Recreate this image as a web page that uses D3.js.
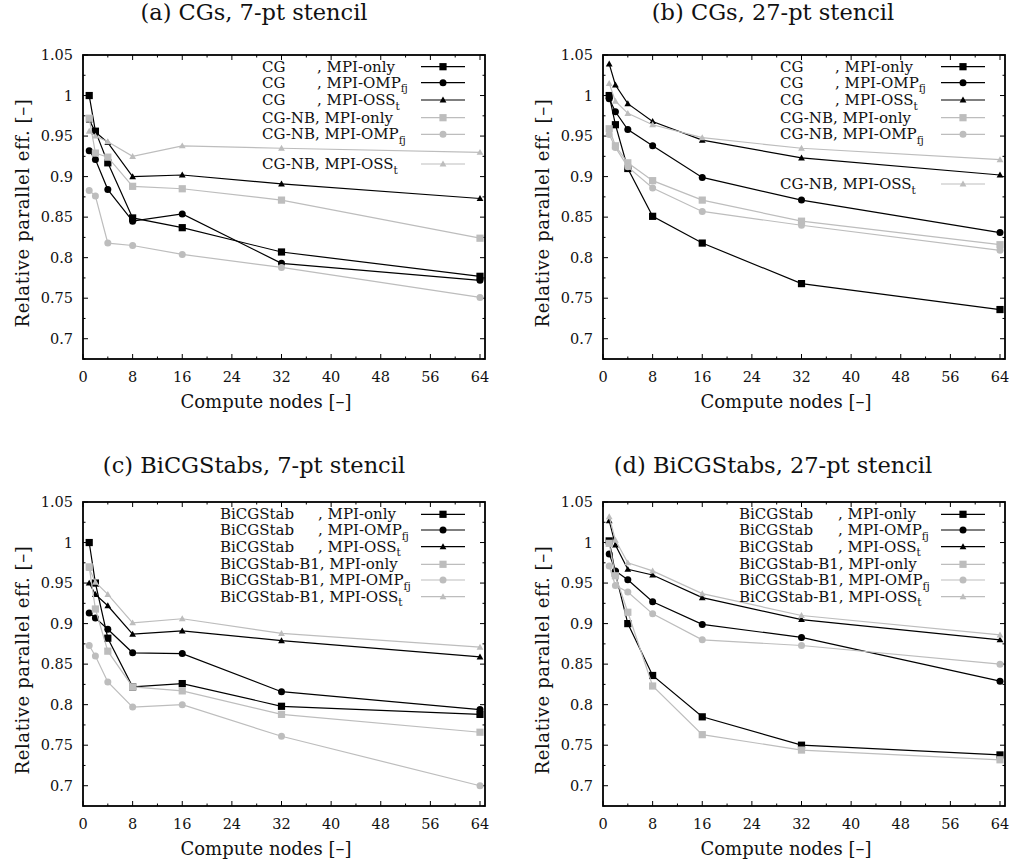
<!DOCTYPE html>
<html><head><meta charset="utf-8">
<script src="https://cdn.jsdelivr.net/npm/d3@7"></script>
<style>
html,body{margin:0;padding:0;background:#fff;}
svg text{font-family:"DejaVu Serif",serif;fill:#111;}
</style></head>
<body><svg id="c" width="1013" height="864"></svg>
<script>
// ---------- data ----------
const nodes = [1, 2, 4, 8, 16, 32, 64];
const xTicks = [0, 8, 16, 24, 32, 40, 48, 56, 64];
const yTicks = [0.7, 0.75, 0.8, 0.85, 0.9, 0.95, 1, 1.05];
const yTickLabels = ["0.7", "0.75", "0.8", "0.85", "0.9", "0.95", "1", "1.05"];
const variants = ["MPI-only", "MPI-OMP", "MPI-OSS"];
const variantSubs = ["", "fj", "t"];

const titles = ["(a) CGs, 7-pt stencil", "(b) CGs, 27-pt stencil",
                "(c) BiCGStabs, 7-pt stencil", "(d) BiCGStabs, 27-pt stencil"];
const solversCG = ["CG", "CG-NB"];
const solversBi = ["BiCGStab", "BiCGStab-B1"];

// (a) CGs, 7-pt
const a_base_only = [1.0, 0.956, 0.917, 0.849, 0.837, 0.807, 0.777];
const a_base_omp  = [0.932, 0.921, 0.884, 0.845, 0.854, 0.793, 0.772];
const a_base_oss  = [0.970, 0.955, 0.942, 0.900, 0.902, 0.891, 0.873];
const a_var_only  = [0.972, 0.929, 0.924, 0.888, 0.885, 0.871, 0.824];
const a_var_omp   = [0.883, 0.876, 0.818, 0.815, 0.804, 0.788, 0.751];
const a_var_oss   = [0.956, 0.950, 0.943, 0.925, 0.938, 0.935, 0.930];
// (b) CGs, 27-pt
const b_base_only = [1.0, 0.964, 0.910, 0.851, 0.818, 0.768, 0.736];
const b_base_omp  = [0.996, 0.980, 0.958, 0.938, 0.899, 0.871, 0.831];
const b_base_oss  = [1.039, 1.013, 0.990, 0.968, 0.945, 0.923, 0.902];
const b_var_only  = [0.959, 0.938, 0.917, 0.895, 0.871, 0.845, 0.816];
const b_var_omp   = [0.952, 0.936, 0.912, 0.886, 0.857, 0.840, 0.809];
const b_var_oss   = [1.015, 0.993, 0.978, 0.964, 0.948, 0.935, 0.921];
// (c) BiCGStabs, 7-pt
const c_base_only = [1.0, 0.950, 0.882, 0.822, 0.826, 0.798, 0.788];
const c_base_omp  = [0.913, 0.907, 0.893, 0.864, 0.863, 0.816, 0.794];
const c_base_oss  = [0.950, 0.936, 0.922, 0.887, 0.891, 0.879, 0.859];
const c_var_only  = [0.970, 0.918, 0.866, 0.822, 0.817, 0.788, 0.766];
const c_var_omp   = [0.873, 0.860, 0.828, 0.797, 0.800, 0.761, 0.700];
const c_var_oss   = [0.968, 0.951, 0.936, 0.901, 0.906, 0.888, 0.871];
// (d) BiCGStabs, 27-pt
const d_base_only = [1.002, 0.962, 0.900, 0.836, 0.785, 0.750, 0.738];
const d_base_omp  = [0.986, 0.965, 0.954, 0.927, 0.899, 0.883, 0.829];
const d_base_oss  = [1.027, 0.997, 0.967, 0.960, 0.932, 0.905, 0.880];
const d_var_only  = [0.999, 0.959, 0.914, 0.823, 0.763, 0.744, 0.732];
const d_var_omp   = [0.971, 0.947, 0.939, 0.912, 0.880, 0.873, 0.850];
const d_var_oss   = [1.032, 1.003, 0.975, 0.965, 0.937, 0.910, 0.886];

const panelsData = [
  {title: titles[0], solvers: solversCG, series: [a_base_only, a_base_omp, a_base_oss, a_var_only, a_var_omp, a_var_oss]},
  {title: titles[1], solvers: solversCG, series: [b_base_only, b_base_omp, b_base_oss, b_var_only, b_var_omp, b_var_oss]},
  {title: titles[2], solvers: solversBi, series: [c_base_only, c_base_omp, c_base_oss, c_var_only, c_var_omp, c_var_oss]},
  {title: titles[3], solvers: solversBi, series: [d_base_only, d_base_omp, d_base_oss, d_var_only, d_var_omp, d_var_oss]}
];

// ---------- layout ----------
const layout = [
  {left: 83,  right: 485,  top: 55,  bottom: 359, titleX: 254, titleY: 20,  legX: 262, commaX: 317, legRows: [11.7, 27.7, 45, 62.7, 79.3, 109]},
  {left: 603, right: 1005, top: 55,  bottom: 359, titleX: 773, titleY: 20,  legX: 780, commaX: 835, legRows: [11.7, 27.7, 45, 62.7, 79.3, 129]},
  {left: 83,  right: 485,  top: 502, bottom: 806, titleX: 254, titleY: 473, legX: 220, commaX: 318, legRows: [12.3, 28, 44.7, 62.3, 78, 94.7]},
  {left: 603, right: 1005, top: 502, bottom: 806, titleX: 773, titleY: 473, legX: 739, commaX: 838, legRows: [12.3, 28, 44.7, 62.3, 78, 94.7]}
];
const BLACK = "#000", GREY = "#bdbdbd";

const svg = d3.select("#c");

function marker(g, type, x, y, color) {
  if (type === 0) {
    g.append("rect").attr("x", x - 3.6).attr("y", y - 3.6).attr("width", 7.2).attr("height", 7.2).attr("fill", color);
  } else if (type === 1) {
    g.append("circle").attr("cx", x).attr("cy", y).attr("r", 3.5).attr("fill", color);
  } else {
    const s = 3.4;
    g.append("path").attr("d", `M${x},${y - s}L${x + s},${y + s * 0.75}L${x - s},${y + s * 0.75}Z`).attr("fill", color);
  }
}

panelsData.forEach((p, i) => {
  const L = layout[i];
  const x = d3.scaleLinear().domain([0, 64]).range([L.left, L.right - 5]);
  const y = d3.scaleLinear().domain([0.675, 1.05]).range([L.bottom, L.top]);
  const g = svg.append("g");

  // title
  g.append("text").attr("x", L.titleX).attr("y", L.titleY).attr("text-anchor", "middle")
    .style("font-size", "22.5px").style("font-weight", "normal").text(p.title);

  // ticks (inward, mirrored)
  const tk = g.append("g").attr("stroke", "#000").attr("stroke-width", 1);
  d3.range(0, 65, 4).forEach(v => {
    const len = v % 8 === 0 ? 5 : 2.5;
    const xx = x(v);
    tk.append("line").attr("x1", xx).attr("x2", xx).attr("y1", L.bottom).attr("y2", L.bottom - len);
    tk.append("line").attr("x1", xx).attr("x2", xx).attr("y1", L.top).attr("y2", L.top + len);
  });
  d3.range(0, 16).map(k => 0.675 + k * 0.025).forEach((v, k) => {
    if (v > 1.0501) return;
    const len = (k % 2 === 1) ? 5 : 2.5;
    const yy = y(v);
    tk.append("line").attr("x1", L.left).attr("x2", L.left + len).attr("y1", yy).attr("y2", yy);
    tk.append("line").attr("x1", L.right).attr("x2", L.right - len).attr("y1", yy).attr("y2", yy);
  });

  // tick labels
  yTicks.forEach((v, k) => {
    g.append("text").attr("x", L.left - 10).attr("y", y(v) + 5).attr("text-anchor", "end")
      .style("font-size", "14.5px").text(yTickLabels[k]);
  });
  xTicks.forEach(v => {
    g.append("text").attr("x", x(v)).attr("y", L.bottom + 23).attr("text-anchor", "middle")
      .style("font-size", "14.5px").text(String(v));
  });

  // axis titles
  g.append("text").attr("x", (L.left + L.right) / 2 - 18).attr("y", L.bottom + 49).attr("text-anchor", "middle")
    .style("font-size", "18px").text("Compute nodes [–]");
  g.append("text").attr("transform", `translate(${L.left - 54},${(L.top + L.bottom) / 2 + 6}) rotate(-90)`)
    .attr("text-anchor", "middle").style("font-size", "18px").style("letter-spacing", "0.6px")
    .text("Relative parallel eff. [–]");

  // series
  const line = d3.line().x((d, k) => x(nodes[k])).y(d => y(d));
  p.series.forEach((vals, s) => {
    const color = s < 3 ? BLACK : GREY;
    const type = s % 3;
    g.append("path").datum(vals).attr("d", line).attr("fill", "none")
      .attr("stroke", color).attr("stroke-width", 1.2);
    vals.forEach((v, k) => marker(g, type, x(nodes[k]), y(v), color));
  });

  // legend
  p.series.forEach((vals, s) => {
    const color = s < 3 ? BLACK : GREY;
    const type = s % 3;
    const ry = L.top + L.legRows[s];
    const solver = p.solvers[s < 3 ? 0 : 1];
    const t = g.append("text").attr("y", ry + 5).style("font-size", "15px");
    if (s < 3) {
      t.append("tspan").attr("x", L.legX).text(solver);
      t.append("tspan").attr("x", L.commaX).text(", " + variants[type]);
    } else {
      t.append("tspan").attr("x", L.legX).text(solver + ", " + variants[type]);
    }
    if (variantSubs[type]) {
      t.append("tspan").attr("dy", 4.5).style("font-size", "10.5px").text(variantSubs[type]);
    }
    g.append("line").attr("x1", L.right - 64).attr("x2", L.right - 20).attr("y1", ry).attr("y2", ry)
      .attr("stroke", color).attr("stroke-width", 1.2);
    marker(g, type, L.right - 42, ry, color);
  });

  // frame
  g.append("rect").attr("x", L.left).attr("y", L.top).attr("width", L.right - L.left).attr("height", L.bottom - L.top)
    .attr("fill", "none").attr("stroke", "#000").attr("stroke-width", 1.8);
});
</script></body></html>
